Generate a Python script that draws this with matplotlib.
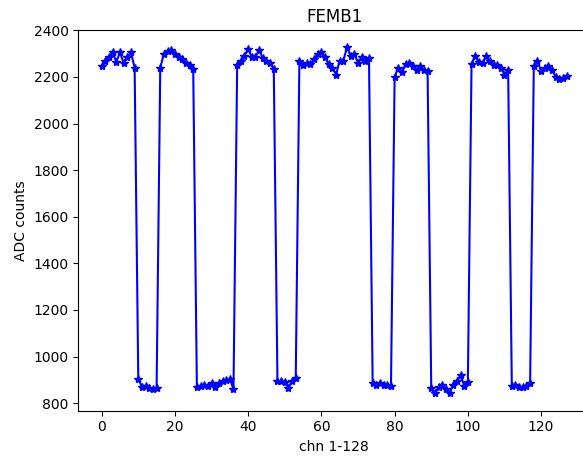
import matplotlib
matplotlib.use('Agg')
import matplotlib.pyplot as plt

# channel numbers
chn = list(range(128))

# ADC counts per channel
adc = [
    # 0-9
    2245, 2270, 2285, 2305, 2265, 2305, 2260, 2285, 2305, 2240,
    # 10-15
    905, 870, 875, 865, 860, 865,
    # 16-25
    2240, 2300, 2310, 2315, 2300, 2285, 2275, 2260, 2250, 2235,
    # 26-36
    870, 875, 880, 875, 885, 870, 885, 895, 900, 905, 860,
    # 37-47
    2250, 2270, 2290, 2320, 2285, 2285, 2315, 2280, 2270, 2260, 2235,
    # 48-53
    895, 895, 890, 865, 895, 910,
    # 54-73
    2270, 2250, 2260, 2255, 2275, 2300, 2305, 2285, 2255, 2240,
    2210, 2270, 2270, 2327, 2290, 2300, 2260, 2285, 2270, 2280,
    # 74-79
    885, 880, 885, 880, 878, 872,
    # 80-89
    2200, 2240, 2220, 2255, 2260, 2245, 2230, 2245, 2230, 2225,
    # 90-100
    865, 842, 870, 880, 860, 845, 880, 895, 920, 875, 890,
    # 101-111
    2255, 2290, 2265, 2260, 2290, 2270, 2250, 2250, 2240, 2210, 2230,
    # 112-117
    875, 880, 870, 870, 875, 885,
    # 118-127
    2245, 2270, 2225, 2240, 2245, 2230, 2200, 2190, 2195, 2205,
]

fig = plt.figure(figsize=(5.83, 4.57), dpi=100)
ax = fig.add_axes([0.1345, 0.1013, 0.8775, 0.833])

ax.plot(chn, adc, 'b*-')
ax.set_title('FEMB1')
ax.set_xlabel('chn 1-128')
ax.set_ylabel('ADC counts')

fig.savefig('out.png', dpi=100)
